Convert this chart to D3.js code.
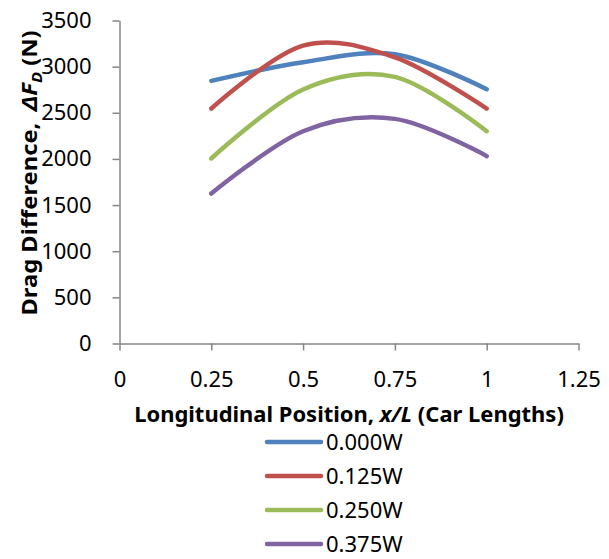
<!DOCTYPE html>
<html>
<head>
<meta charset="utf-8">
<script src="https://cdn.jsdelivr.net/npm/d3@7"></script>
<style>
  body { margin: 0; background: #fff; }
  text { font-family: "Noto Sans", "Open Sans", sans-serif; fill: #000; }
</style>
</head>
<body>
<svg id="chart"></svg>
<script>
const width = 609;
const height = 559;

// data
const positions = [0.25, 0.5, 0.75, 1];
const seriesNames = ["0.000W", "0.125W", "0.250W", "0.375W"];
const w000 = [2846, 3048, 3135, 2755];
const w125 = [2546, 3228, 3100, 2546];
const w250 = [2005, 2752, 2889, 2300];
const w375 = [1625, 2300, 2434, 2030];
const colors = ["#4F81BD", "#C0504D", "#9BBB59", "#8064A2"];
const xTicks = [0, 0.25, 0.5, 0.75, 1, 1.25];
const yTicks = [0, 500, 1000, 1500, 2000, 2500, 3000, 3500];

const allSeries = [w000, w125, w250, w375];

const svg = d3.select("#chart")
  .attr("width", width)
  .attr("height", height);

const x = d3.scaleLinear().domain([0, 1.25]).range([119.5, 578.5]);
const y = d3.scaleLinear().domain([0, 3500]).range([343.5, 20.5]);

// axes
const xAxis = svg.append("g")
  .attr("transform", `translate(0, ${y(0)})`)
  .call(d3.axisBottom(x).tickValues(xTicks).tickFormat(d3.format("")).tickSize(7).tickSizeOuter(0).tickPadding(21));

const yAxis = svg.append("g")
  .attr("transform", `translate(${x(0)}, 0)`)
  .call(d3.axisLeft(y).tickValues(yTicks).tickFormat(d3.format("")).tickSize(7).tickSizeOuter(0).tickPadding(21));

[xAxis, yAxis].forEach(g => {
  g.selectAll("path, line").attr("stroke", "#868686").attr("stroke-width", 1.5);
  g.selectAll("text").attr("font-size", 22).attr("fill", "#000")
    .style("font-family", '"Noto Sans", "Open Sans", sans-serif');
});

// lines, Excel-style smoothing
const line = d3.line()
  .x((d, i) => x(positions[i]))
  .y(d => y(d))
  .curve(d3.curveCardinal.tension(0));

svg.append("g")
  .selectAll("path")
  .data(allSeries)
  .enter().append("path")
  .attr("d", d => line(d))
  .attr("fill", "none")
  .attr("stroke", (d, i) => colors[i])
  .attr("stroke-width", 4.5)
  .attr("stroke-linecap", "round");

// squeeze a title along its own direction to fit a target length
function fit(sel, cx, cy, rot, target) {
  const len = sel.node().getComputedTextLength();
  sel.attr("transform", `translate(${cx}, ${cy}) rotate(${rot}) scale(${target / len}, 1)`);
}

// x title
const xTitle = svg.append("text")
  .attr("text-anchor", "middle")
  .attr("font-size", 22)
  .attr("font-weight", "bold");
xTitle.append("tspan").text("Longitudinal Position,\u00A0");
xTitle.append("tspan").attr("font-style", "italic").text("x/L");
xTitle.append("tspan").text("\u00A0(Car Lengths)");
fit(xTitle, (x(0) + x(1.25)) / 2, 422, 0, 430);

// y title
const yTitle = svg.append("text")
  .attr("text-anchor", "middle")
  .attr("font-size", 22)
  .attr("font-weight", "bold");
yTitle.append("tspan").text("Drag Difference,\u00A0");
yTitle.append("tspan").attr("font-style", "italic").attr("dx", 5).text("ΔF");
yTitle.append("tspan").attr("font-style", "italic").attr("font-size", 15).attr("dy", 5).text("D");
yTitle.append("tspan").attr("dy", -5).text("\u00A0(N)");
fit(yTitle, 37, 173, -90, 280);

// legend
const legend = svg.append("g").attr("transform", "translate(267, 442)");
const items = legend.selectAll("g")
  .data(seriesNames)
  .enter().append("g")
  .attr("transform", (d, i) => `translate(0, ${i * 34})`);
items.append("line")
  .attr("x1", 0).attr("x2", 54)
  .attr("stroke", (d, i) => colors[i])
  .attr("stroke-width", 4.5)
  .attr("stroke-linecap", "round");
items.append("text")
  .attr("x", 59)
  .attr("dy", "0.35em")
  .attr("font-size", 22)
  .text(d => d);
</script>
</body>
</html>
